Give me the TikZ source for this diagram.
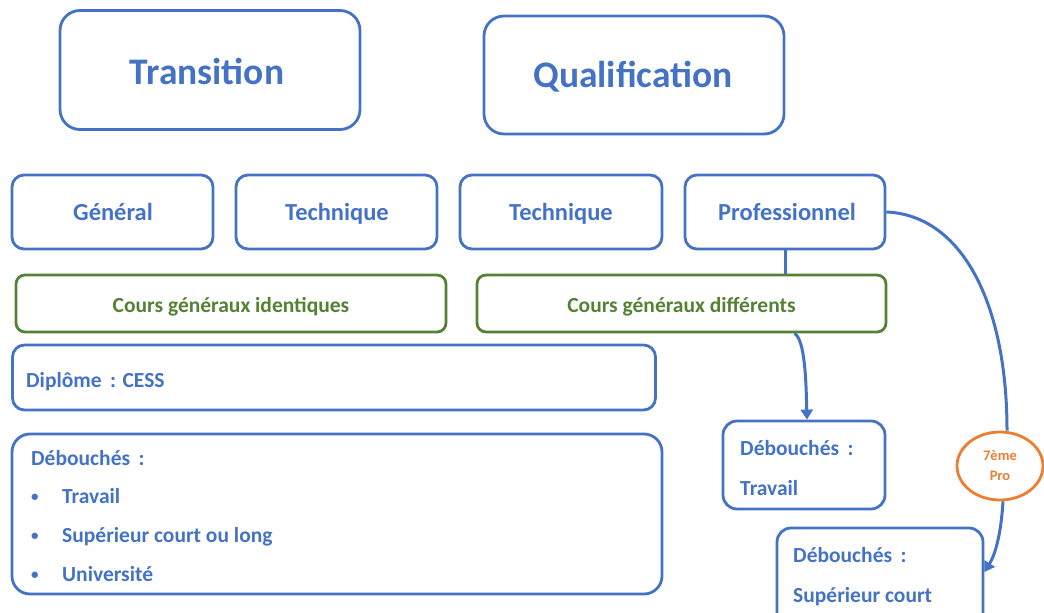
\documentclass[tikz,border=0pt]{standalone}
\usepackage{fontspec}
\setmainfont{Carlito}
\usetikzlibrary{arrows.meta,shapes.geometric}
\definecolor{cblue}{HTML}{4472C4}
\definecolor{cgreen}{HTML}{548235}
\definecolor{corange}{HTML}{ED7D31}
\tikzset{
  bbox/.style={draw=cblue, line width=2.8pt, rounded corners=14pt, inner sep=0pt},
  gbox/.style={draw=cgreen, line width=2.8pt, rounded corners=9pt, inner sep=0pt},
  big/.style={text=cblue, font=\fontsize{37.5}{40}\selectfont\bfseries, anchor=base, inner sep=0pt},
  mid/.style={text=cblue, font=\fontsize{24.5}{28}\selectfont\bfseries, anchor=base, inner sep=0pt},
  gtxt/.style={text=cgreen, font=\fontsize{21.5}{24}\selectfont\bfseries, anchor=base, inner sep=0pt},
  btxt/.style={text=cblue, font=\fontsize{21.5}{24}\selectfont\bfseries, anchor=base west, inner sep=0pt},
  bul/.style={text=cblue, font=\fontsize{15}{18}\selectfont\bfseries, anchor=base west, inner sep=0pt},
  conn/.style={draw=cblue, line width=3pt},
  arr/.style={conn, -{Triangle[length=10pt,width=12pt]}},
}
\begin{document}
\begin{tikzpicture}[x=1pt,y=-1pt]
\useasboundingbox (0,0) rectangle (1044,613);
% top boxes
\node[bbox, rounded corners=20pt, minimum width=300pt, minimum height=119pt] (trans) at (210,70) {};
\node[big] (transt) at (207,84) {Transition};
\node[bbox, rounded corners=20pt, minimum width=300pt, minimum height=118pt] (qual) at (634,75) {};
\node[big] (qualt) at (633,87) {Qualification};
% second row
\node[bbox, rounded corners=12pt, minimum width=201pt, minimum height=74pt] (gen) at (112.5,212) {};
\node[mid] at (113,220) {Général};
\node[bbox, rounded corners=12pt, minimum width=201pt, minimum height=74pt] (tech1) at (336.5,212) {};
\node[mid] at (337,220) {Technique};
\node[bbox, rounded corners=12pt, minimum width=202pt, minimum height=74pt] (tech2) at (561,212) {};
\node[mid] at (561,220) {Technique};
\node[bbox, rounded corners=12pt, minimum width=200pt, minimum height=74pt] (pro) at (785,212) {};
\node[mid] at (787,220) {Professionnel};
% green boxes
\node[gbox, minimum width=430pt, minimum height=57pt] (cgi) at (231,303.5) {};
\node[gtxt] at (231,312) {Cours généraux identiques};
\node[gbox, minimum width=409pt, minimum height=57pt] (cgd) at (681.5,303.5) {};
\node[gtxt] at (681.5,312) {Cours généraux différents};
% diplome
\node[bbox, rounded corners=12pt, minimum width=643pt, minimum height=65pt] (dip) at (334,377.5) {};
\node[btxt] at (26,387) {Diplôme\, : CESS};
% debouches big
\node[bbox, rounded corners=18pt, minimum width=650pt, minimum height=160pt] (deb) at (337,514) {};
\node[btxt] at (31,465) {Débouchés\, :};
\node[bul] at (31,501) {•};
\node[btxt] at (62,503) {Travail};
\node[bul] at (31,540) {•};
\node[btxt] at (62,542) {Supérieur court ou long};
\node[bul] at (31,579) {•};
\node[btxt] at (62,581) {Université};
% debouches travail
\node[bbox, rounded corners=14pt, minimum width=162pt, minimum height=88pt] (debt) at (804,465) {};
\node[btxt] at (740,455) {Débouchés\, :};
\node[btxt] at (740,495) {Travail};
% debouches sup
\node[bbox, rounded corners=14pt, minimum width=206pt, minimum height=100pt] (debs) at (880,578) {};
\node[btxt] at (793,562) {Débouchés\, :};
\node[btxt] at (793,602) {Supérieur court};
% orange ellipse
\node[ellipse, draw=corange, line width=2.8pt, minimum width=86pt, minimum height=68pt, inner sep=0pt, align=center,
      text=corange, font=\fontsize{14.5}{20}\selectfont\bfseries] (sept) at (1000,466) {7ème\\Pro};
% connectors
\draw[conn] (pro.south) -- (cgd.north -| pro.south);
\draw[arr] ([xshift=113pt]cgd.south) .. controls (805,340) and (806,380) .. (debt.north -| 807,0);
\draw[conn] (pro.east) .. controls (960,215) and (1007,300) .. (sept.north -| 1007,0);
\draw[arr] (sept.south -| 1003,0) .. controls (1001,535) and (995,555) .. (debs.east |- 0,572);
\end{tikzpicture}
\end{document}
